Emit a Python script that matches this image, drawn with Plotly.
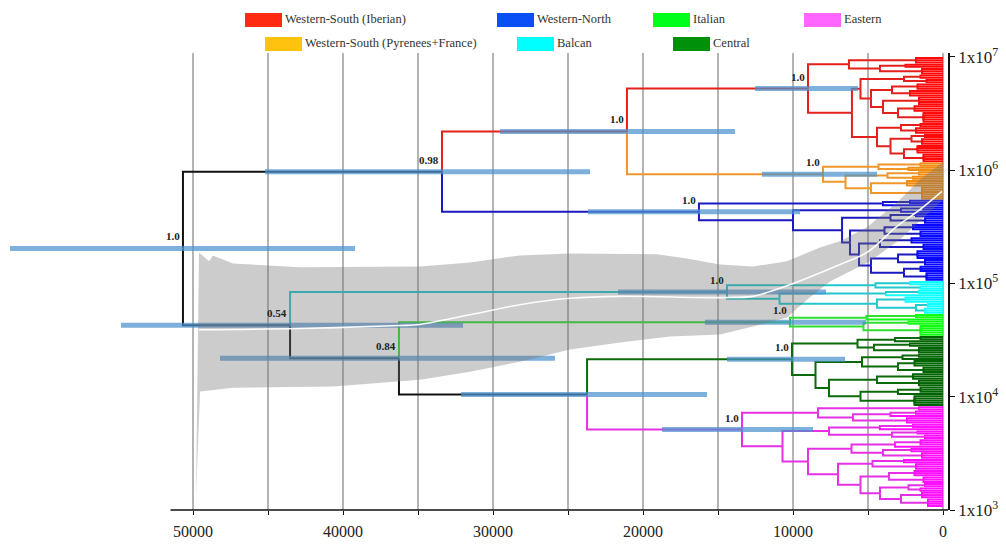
import plotly.graph_objects as go

# ---------------- data ----------------
age_ticks = [0, 10000, 20000, 30000, 40000, 50000]
age_tick_labels = ["0", "10000", "20000", "30000", "40000", "50000"]
age_minor_ticks = [5000, 15000, 25000, 35000, 45000]
pop_ticks = [1e3, 1e4, 1e5, 1e6, 1e7]
pop_tick_labels = ["1x10<sup>3</sup>", "1x10<sup>4</sup>", "1x10<sup>5</sup>",
                   "1x10<sup>6</sup>", "1x10<sup>7</sup>"]

legend_names = ["Western-South (Iberian)", "Western-North", "Italian", "Eastern",
                "Western-South (Pyrenees+France)", "Balcan", "Central"]
legend_colors = ["#ff2a12", "#0a50f5", "#00ff1a", "#ff66ff", "#ffc20e", "#00ffff", "#00900a"]

# clade subtrees: [node_age, child, child, ...]; an integer child = that many tips (age 0)
iberian = [9000,
           [6270, [1800, 3], [4200, [2500, 2], [1400, 3]]],
           [6070,
            [5500, [2600, [1500, 2], [1100, 2]],
                   [4800, [3400, [1700, 3], [2200, 3]],
                          [4000, [1600, 4], [3000, [1900, 3], [1300, 5]]]]],
            [4400, [2800, [1500, 2], [1800, 3]],
                   [3500, [2100, [1200, 2], [1400, 3]], [2600, [1700, 4], [1300, 4]]]]]]
pyrenees = [8000,
            [4300, [1500, 2], [2300, 2]],
            [6500, [3700, [1600, 2], [2000, 2]], [4800, [2400, 3], [1400, 6]]]]
western_north = [16270,
                 [4000, [2200, 2], 1],
                 [10000,
                  [2800, [1300, 2], 1],
                  [6730,
                   [3500, [1800, 2], [1200, 3]],
                   [6200,
                    [3900, [2000, 3], [1500, 3]],
                    [5600, [4200, [2100, 3], [1300, 3]],
                           [4800, [3000, [1700, 4], [1200, 3]], [2600, [1500, 3], [1100, 4]]]]]]]]
balcan = [14400,
          [4500, [2200, 2], [1500, 2]],
          [10900, [3800, [1600, 2], 1], [4400, [2500, 3], [1800, [1000, 2], [1200, 3]]]]]
italian = [10200,
           [5100, [1800, 2], 1],
           [5300, [2300, 2], [1500, 5]]]
central = [10070,
           [5700, [3200, [1500, 2], 1], [4600, [2200, 2], [1600, 3]]],
           [8500,
            [5400, [2700, [1600, 2], 1], [3000, [1900, 3], [1300, 3]]],
            [7600, [4400, [2000, 3], [1600, 3]], [5500, [3000, [1500, 3], 1], [1900, 5]]]]]
eastern = [13400,
           [8330, [1600, 2], [6000, [3500, [1800, 2], 1], [2400, 3]]],
           [10700,
            [7600, [4200, [2000, 2], 1], [3400, [1700, 2], [1200, 2]]],
            [9000,
             [6100, [3200, [1500, 3], 1], [4000, [2100, 2], [1400, 3]]],
             [7000,
              [4700, [2600, 2], [1800, 3]],
              [5500, [3600, [1900, 3], [1300, 3]],
                     [4200, [2300, [1200, 2], [1500, 2]], [2800, [1400, 3], [1000, 4]]]]]]]]

# backbone: [name, age, children...]; strings refer to clades
backbone = ["root", 50670,
            ["n098", 33400, ["n_ro", 21070, "iberian", "pyrenees"], "western_north"],
            ["n054", 43530, "balcan",
             ["n084", 36270, "italian", ["n_x", 23730, "central", "eastern"]]]]

# node age 95% HPD bars and posterior support
hpd_node = ["root", "n098", "n_ro", "iberian", "pyrenees", "western_north", "n054",
            "balcan", "n084", "italian", "n_x", "central", "eastern"]
hpd_low = [39200, 23530, 13870, 5670, 4400, 9530, 32000, 7800, 25870, 5130, 15730, 6530, 8670]
hpd_high = [62200, 45200, 29530, 12530, 12070, 23670, 54800, 21670, 48200, 15870, 32130, 14400, 18730]
posterior = ["1.0", "0.98", "1.0", "1.0", "1.0", "1.0", "0.54", "1.0", "0.84", "1.0", "", "1.0", "1.0"]

# Bayesian skyline (effective population size)
sky_age_upper = [49600, 49200, 48930, 48670, 47330, 42870, 39530, 34870, 31530, 28200, 24870,
                 21530, 19070, 17070, 14870, 12670, 10400, 8200, 6870, 5070, 3070, 1530, 0]
sky_upper = [1.88e5, 1.70e5, 1.57e5, 1.77e5, 1.50e5, 1.39e5, 1.39e5, 1.41e5, 1.53e5, 1.77e5, 1.84e5,
             1.81e5, 1.81e5, 1.66e5, 1.47e5, 1.41e5, 1.57e5, 2.08e5, 2.36e5, 3.13e5, 5.2e5, 8.3e5, 1.18e6]
sky_age_lower = [49800, 49530, 47330, 40670, 34870, 31530, 28200, 24870, 21530, 18200,
                 14870, 12670, 10400, 9070, 7530, 4870, 2870, 1530, 0]
sky_lower = [1.3e3, 1.11e4, 1.2e4, 1.23e4, 1.41e4, 1.66e4, 2.04e4, 2.61e4, 3.01e4, 3.4e4,
             3.54e4, 4.16e4, 5.0e4, 7.2e4, 1.04e5, 1.57e5, 2.45e5, 3.54e5, 5.5e5]
sky_age_median = [49600, 42870, 36200, 34870, 31530, 28200, 24870, 21530, 14870, 12670,
                  11530, 9330, 6870, 5070, 3070, 1530, 70]
sky_median = [3.9e4, 4.0e4, 4.25e4, 4.35e4, 5.3e4, 6.5e4, 7.4e4, 7.7e4, 7.5e4, 7.7e4,
              8.5e4, 1.08e5, 1.47e5, 1.88e5, 3.2e5, 4.5e5, 6.5e5]

# ---------------- styles ----------------
clades = {"iberian": iberian, "pyrenees": pyrenees, "western_north": western_north,
          "balcan": balcan, "italian": italian, "central": central, "eastern": eastern}
branch_colors = {"backbone": "#111111", "iberian": "#e3201c", "pyrenees": "#f0962a",
                 "western_north": "#1a1ac0", "balcan": "#22c8cc", "italian": "#2ee02e",
                 "central": "#0b6b0b", "eastern": "#e630e6"}
tip_colors = {"iberian": "#ff0a0a", "pyrenees": "#f08c10", "western_north": "#0808ff",
              "balcan": "#10ffff", "italian": "#10ff10", "central": "#006400", "eastern": "#ff10ff"}
backbone_keys = {"root": "backbone", "n098": "backbone", "n_ro": "iberian", "n054": "backbone",
                 "n084": "backbone", "n_x": "backbone"}

SERIF = "Liberation Serif"
GRID = "#b4b4b4"

# ---------------- tree layout ----------------
segments = {}
node_pos = {}
tip_counter = [0]


def place(node, key):
    if isinstance(node, str):
        a, y = place(clades[node], node)
        node_pos[node] = (a, y)
        return a, y
    name = None
    if isinstance(node[0], str):
        name, age, kids = node[0], node[1], node[2:]
    else:
        age, kids = node[0], node[1:]
    info = []
    for k in kids:
        if isinstance(k, int):
            for _ in range(k):
                info.append((0, tip_counter[0], (key, "tip")))
                tip_counter[0] += 1
        else:
            if isinstance(k, str):
                ck = k
            elif isinstance(k[0], str):
                ck = backbone_keys[k[0]]
            else:
                ck = key
            a, cy = place(k, ck)
            info.append((a, cy, (ck, "branch")))
    y = (info[0][1] + info[-1][1]) / 2.0
    for a, cy, bk in info:
        xs, ys = segments.setdefault(bk, ([], []))
        xs += [age, age, a, None]
        ys += [y, cy, cy, None]
    if name:
        node_pos[name] = (age, y)
    return age, y


place(backbone, "backbone")

fig = go.Figure()

# branches first, then tips
for kind in ("branch", "tip"):
    for bk, (xs, ys) in segments.items():
        if bk[1] != kind:
            continue
        col = branch_colors[bk[0]] if kind == "branch" else tip_colors[bk[0]]
        fig.add_trace(go.Scatter(x=xs, y=ys, mode="lines", line=dict(color=col, width=2),
                                 hoverinfo="skip", showlegend=False))

# HPD bars
hx, hy = [], []
for n, lo, hi in zip(hpd_node, hpd_low, hpd_high):
    y = node_pos[n][1]
    hx += [lo, hi, None]
    hy += [y, y, None]
fig.add_trace(go.Scatter(x=hx, y=hy, mode="lines",
                         line=dict(color="rgba(75,145,205,0.72)", width=5),
                         hoverinfo="skip", showlegend=False))

# skyline band + median
fig.add_trace(go.Scatter(x=sky_age_upper + sky_age_lower[::-1],
                         y=sky_upper + sky_lower[::-1], yaxis="y2",
                         mode="lines", fill="toself", fillcolor="rgba(115,115,115,0.36)",
                         line=dict(width=0), hoverinfo="skip", showlegend=False))
fig.add_trace(go.Scatter(x=sky_age_median, y=sky_median, yaxis="y2", mode="lines",
                         line=dict(color="rgba(255,255,255,0.95)", width=1.6, shape="spline"),
                         hoverinfo="skip", showlegend=False))

# posterior labels
annotations = []
for n, p in zip(hpd_node, posterior):
    if not p:
        continue
    a, y = node_pos[n]
    annotations.append(dict(x=a, y=y, xref="x", yref="y", text="<b>" + p + "</b>",
                            showarrow=False, xanchor="right", yanchor="bottom",
                            xshift=-1, yshift=4,
                            font=dict(family=SERIF, size=11, color="#222222")))

# legend (drawn as shapes + text above the plot)
PLOT_W, PLOT_TOP, PLOT_BOTTOM = 948.0, 53.0, 510.0


def px_x(px):
    return px / PLOT_W


def px_y(py):
    return (PLOT_BOTTOM - py) / (PLOT_BOTTOM - PLOT_TOP)


legend_left = [245, 497, 653, 804, 265, 517, 673]
legend_row = [0, 0, 0, 0, 1, 1, 1]
shapes = []
for name, col, left, row in zip(legend_names, legend_colors, legend_left, legend_row):
    top = 13 + row * 24
    shapes.append(dict(type="rect", xref="paper", yref="paper",
                       x0=px_x(left), x1=px_x(left + 37), y0=px_y(top + 14), y1=px_y(top),
                       fillcolor=col, line=dict(width=0), layer="above"))
    annotations.append(dict(x=px_x(left + 38), y=px_y(top + 6), xref="paper", yref="paper",
                            text=name, showarrow=False, xanchor="left", yanchor="middle",
                            font=dict(family=SERIF, size=12.5, color="#333333")))

# bottom axis line
shapes.append(dict(type="line", xref="x", yref="paper", x0=51500, x1=-333, y0=0, y1=0,
                   line=dict(color="#111111", width=1.5), layer="above"))

fig.update_layout(
    width=1006, height=545,
    margin=dict(l=0, r=58, t=53, b=35),
    plot_bgcolor="white", paper_bgcolor="white",
    showlegend=False,
    font=dict(family=SERIF),
    annotations=annotations, shapes=shapes,
    xaxis=dict(range=[62867, -333], tickmode="array", tickvals=age_ticks, ticktext=age_tick_labels,
               ticks="outside", ticklen=4, tickwidth=1.2, tickcolor="#111111",
               showgrid=True, gridcolor=GRID, gridwidth=1.5, zeroline=False,
               minor=dict(tickmode="array", tickvals=age_minor_ticks, ticks="outside",
                          ticklen=4, tickwidth=1.2, tickcolor="#111111",
                          showgrid=True, gridcolor=GRID, gridwidth=1.5),
               showline=False, tickfont=dict(family=SERIF, size=16, color="#222222"),
               ticklabelstandoff=3),
    yaxis=dict(range=[205.8, -2.3], visible=False, showgrid=False, zeroline=False),
    yaxis2=dict(type="log", range=[3, 7.035], overlaying="y", side="right", anchor="x",
                tickvals=pop_ticks, ticktext=pop_tick_labels, ticks="outside", ticklen=5,
                tickcolor="#111111", showline=True, linecolor="#111111", linewidth=1.5,
                showgrid=False, zeroline=False,
                tickfont=dict(family=SERIF, size=17, color="#222222")),
)

fig.write_html("out.html")
